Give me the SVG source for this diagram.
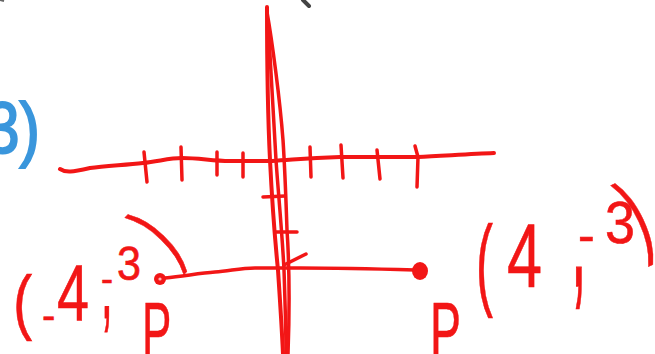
<svg xmlns="http://www.w3.org/2000/svg" width="655" height="354" viewBox="0 0 655 354">
<style>
.ink{fill:none;stroke:#f21616;stroke-width:4;stroke-linecap:round;stroke-linejoin:round}
.thin{stroke-width:3.5}
.hw{font-family:"Liberation Sans","DejaVu Sans",sans-serif;fill:#f21616;stroke:#f21616;stroke-width:0.6}
.blue{font-family:"Liberation Sans","DejaVu Sans",sans-serif;fill:#3a96dc;stroke:#3a96dc;stroke-width:2}
</style>
<rect width="655" height="354" fill="#ffffff"/>
<path d="M303,0 L309,6" stroke="#444" stroke-width="4" stroke-linecap="round"/>
<path d="M0,0 L4,1" stroke="#666" stroke-width="2"/>
<text class="blue" transform="translate(40,153) scale(0.85,1)" font-size="72" text-anchor="end">3)</text>
<g id="axes">
<path class="ink" d="M60,169 C66,173 72,172 90,168 C105,166 125,165 143,163 C160,161 170,158 182,158 C200,158 212,161 230,161 L272,161 C292,160 305,158 340,157 L418,157 C440,156 470,154 494,153"/>
<g class="ink thin">
<path d="M144,152 L147,182"/>
<path d="M181,147 L182,180"/>
<path d="M217,152 L217,175"/>
<path d="M243,153 L243,177"/>
<path d="M310,147 L311,177"/>
<path d="M341,145 L343,178"/>
<path d="M377,150 L380,179"/>
<path d="M415,146 L418,157 L417,187"/>
</g>
<path class="ink" d="M267,7 C267,60 268,120 270,160 C272,200 276,250 278,270 C280,300 282,330 283,354"/>
<path class="ink thin" d="M268,20 C270,60 273,110 276,160 C278,190 282,230 284,270 C285,300 286,330 286,354"/>
<path class="ink thin" d="M267,12 C272,40 280,100 283,140 C285,170 286,200 287,230 C289,260 290,300 288,354"/>
<g class="ink thin">
<path d="M263,197 L285,196"/>
<path d="M275,232 L297,232"/>
<path d="M284,265 L306,254"/>
</g>
</g>
<g id="connectors">
<path class="ink thin" d="M165,278 C185,276 200,273 215,272 C230,271 240,268 255,268 L300,268 C340,268 380,269 415,270"/>
</g>
<g id="point-left">
<circle cx="160" cy="279" r="6" fill="#f21616"/>
<circle cx="160" cy="279" r="1.6" fill="#ffb0b0"/>
<text class="hw" transform="translate(13,326) scale(0.8,1)" font-size="72">(</text>
<text class="hw" x="42" y="329" font-size="40">-</text>
<text class="hw" transform="translate(57,320) scale(0.72,1)" font-size="80">4</text>
<text class="hw" transform="translate(101,318) scale(0.7,1.8)" font-size="60">,</text>
<text class="hw" x="101" y="291" font-size="36">-</text>
<text class="hw" transform="translate(117,280) scale(0.9,1)" font-size="48">3</text>
<text class="hw" transform="translate(160,240) rotate(-46) scale(0.6,1)" font-size="88" text-anchor="middle" y="23">)</text>
<text class="hw" transform="translate(142,358) scale(0.55,1)" font-size="80">P</text>
</g>
<g id="point-right">
<ellipse cx="420" cy="271" rx="8" ry="9" fill="#f21616"/>
<text class="hw" transform="translate(430,358) scale(0.58,1)" font-size="80">P</text>
<text class="hw" transform="translate(476,297) scale(0.5,1)" font-size="102">(</text>
<text class="hw" transform="translate(507,287) scale(0.7,1)" font-size="90">4</text>
<text class="hw" transform="translate(571,286) scale(0.7,2.2)" font-size="80">,</text>
<text class="hw" x="578" y="252" font-size="50">-</text>
<text class="hw" transform="translate(605,243) scale(0.9,1)" font-size="60">3</text>
<text class="hw" transform="translate(638,222) rotate(-25) scale(0.6,1)" font-size="96" text-anchor="middle" y="25">)</text>
</g>
</svg>
